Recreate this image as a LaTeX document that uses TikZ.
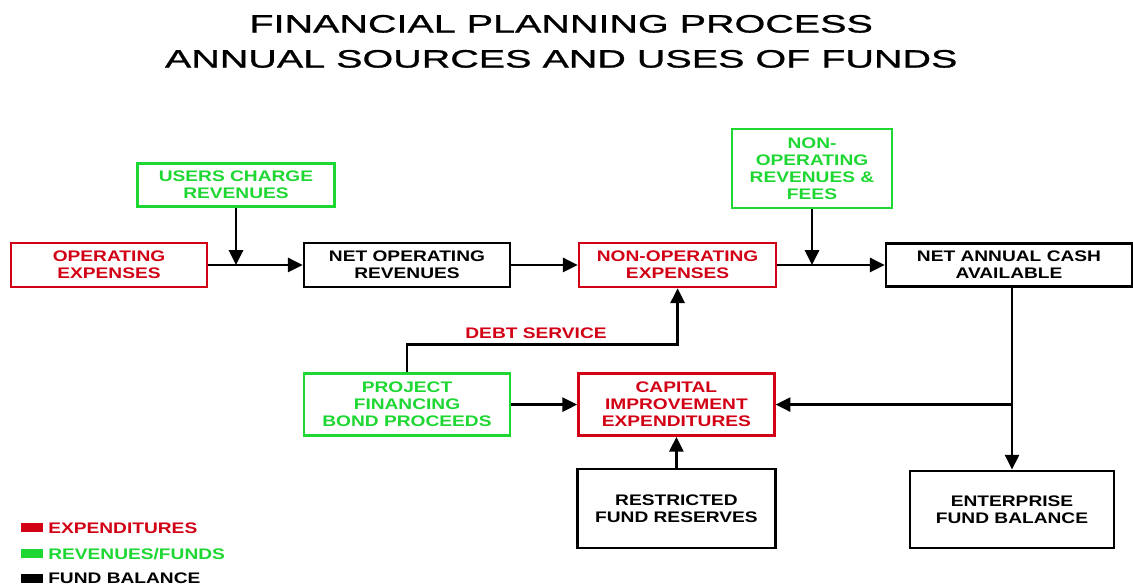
\documentclass[tikz,border=0pt]{standalone}
\usepackage{fontspec}
\usepackage{xcolor}
\usepackage{tikz}
\usetikzlibrary{arrows.meta}
\newfontfamily\titlefont{Liberation Sans}[FakeStretch=1.57,FakeBold=1]
\newfontfamily\boxfont{Liberation Sans}[FakeStretch=1.25]
\definecolor{expred}{RGB}{210,0,20}
\definecolor{revgreen}{RGB}{30,215,50}

\begin{document}
\begin{tikzpicture}
\tikzset{box/.style={draw, line width=1.8pt, align=center, inner sep=2pt, font=\boxfont\bfseries\fontsize{10.9}{12}\selectfont},
  flow/.style={line width=1.8pt, -{Triangle[length=10.5pt,width=10pt]}},
  keytext/.style={anchor=west, inner sep=0pt, font=\boxfont\bfseries\fontsize{10.9}{12}\selectfont}}
\useasboundingbox (0,0) rectangle (28.325,14.675);

\node[font=\titlefont\fontsize{17.9}{24.9}\selectfont, align=center] (title) at (14.03,13.64) {FINANCIAL PLANNING PROCESS\\ANNUAL SOURCES AND USES OF FUNDS};

% top row
\node[box,draw=revgreen,text=revgreen,minimum width=4.93cm,minimum height=1.08cm] (ucr) at (5.9,10.05) {USERS CHARGE\\REVENUES};
\node[box,draw=expred,text=expred,minimum width=4.9cm,minimum height=1.1cm] (opx) at (2.725,8.05) {OPERATING\\EXPENSES};
\node[box,minimum width=5.15cm,minimum height=1.1cm] (nor) at (10.175,8.05) {NET OPERATING\\REVENUES};
\node[box,draw=expred,text=expred,minimum width=4.93cm,minimum height=1.1cm] (nox) at (16.94,8.05) {NON-OPERATING\\EXPENSES};
\node[box,draw=revgreen,text=revgreen,minimum width=4cm,minimum height=1.98cm] (nof) at (20.3,10.46) {NON-\\OPERATING\\REVENUES \&\\FEES};
\node[box,minimum width=6.15cm,minimum height=1.08cm] (nac) at (25.225,8.05) {NET ANNUAL CASH\\AVAILABLE};

\draw[flow] (opx.east) -- (nor.west);
\draw[flow] (ucr.south) -- (ucr.south |- opx.east);
\draw[flow] (nor.east) -- (nox.west);
\draw[flow] (nox.east) -- (nac.west);
\draw[flow] (nof.south) -- (nof.south |- nac.west);

% lower part
\node[box,draw=revgreen,text=revgreen,minimum width=5.15cm,minimum height=1.55cm] (pfb) at (10.175,4.56) {PROJECT\\FINANCING\\BOND PROCEEDS};
\node[box,draw=expred,text=expred,minimum width=4.9cm,minimum height=1.55cm] (cie) at (16.91,4.56) {CAPITAL\\IMPROVEMENT\\EXPENDITURES};
\node[box,minimum width=4.95cm,minimum height=1.98cm] (rfr) at (16.91,1.96) {RESTRICTED\\FUND RESERVES};
\node[box,minimum width=5.1cm,minimum height=1.93cm] (efb) at (25.3,1.94) {ENTERPRISE\\FUND BALANCE};
\node[text=expred,font=\boxfont\bfseries\fontsize{10.9}{12}\selectfont] (debt) at (13.4,6.35) {DEBT SERVICE};

\draw[flow] (pfb.north) -- ++(0,0.7) -| (nox.south);
\draw[flow] (pfb.east) -- (cie.west);
\draw[flow] (rfr.north) -- (cie.south);
\coordinate (br) at (efb.north |- cie.east);
\draw[flow] (nac.south -| efb.north) -- (efb.north);
\draw[flow] (br) -- (cie.east);

% legend
\fill[expred] (0.525,1.37) rectangle (1.075,1.595);
\node[keytext,text=expred] (key1) at (1.2,1.48) {EXPENDITURES};
\fill[revgreen] (0.525,0.72) rectangle (1.075,0.945);
\node[keytext,text=revgreen] (key2) at (1.2,0.83) {REVENUES/FUNDS};
\fill[black] (0.525,0.1) rectangle (1.075,0.325);
\node[keytext] (key3) at (1.2,0.21) {FUND BALANCE};
\end{tikzpicture}
\end{document}
